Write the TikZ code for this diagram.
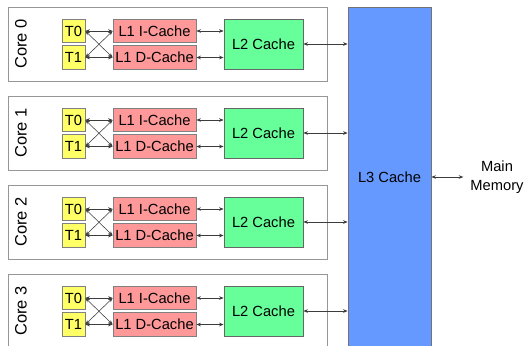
\documentclass[tikz,border=0pt]{standalone}
\usepackage{fontspec}
\setmainfont{Liberation Sans}
\usetikzlibrary{arrows.meta}
\definecolor{tyellow}{RGB}{255,255,102}
\definecolor{lpink}{RGB}{255,153,153}
\definecolor{lgreen}{RGB}{102,255,153}
\definecolor{lblue}{RGB}{102,153,255}
\definecolor{bordgray}{RGB}{128,128,128}
\definecolor{coregray}{RGB}{150,150,150}
\definecolor{arrgray}{RGB}{60,60,60}
\begin{document}
\begin{tikzpicture}[x=1pt,y=-1pt,
  font=\fontsize{14.7}{18}\selectfont,
  box/.style={draw=bordgray, line width=0.8pt, inner sep=0pt, anchor=center},
  corebox/.style={draw=coregray, line width=0.8pt, inner sep=0pt, minimum width=319pt, minimum height=74pt},
  tbox/.style={box, fill=tyellow, minimum width=23pt, minimum height=23.5pt},
  lonebox/.style={box, fill=lpink, minimum width=83pt, minimum height=23.5pt},
  ltwobox/.style={box, draw=black!60, fill=lgreen, minimum width=79pt, minimum height=50pt},
  arr/.style={draw=arrgray, line width=0.55pt, arrows={Stealth[length=4.5pt,width=3.6pt]-Stealth[length=4.5pt,width=3.6pt]}}
]
\useasboundingbox (0,0) rectangle (524,345);
\node[box, draw=black!55, fill=lblue, minimum width=83pt, minimum height=340pt] (l3) at (389.5,177) {L3 Cache};
\node[align=center, inner sep=0pt, font=\fontsize{14.7}{19}\selectfont] (mm) at (497,177) {Main\\Memory};
\draw[arr, shorten >=7pt] (l3.east |- mm.center) -- (mm.west);
\foreach \k in {0,...,3}{
  \pgfmathsetmacro\oy{89*\k}
  \node[corebox] (core\k) at (167.5,44+\oy) {};
  \node[rotate=90, font=\fontsize{16.5}{18}\selectfont, inner sep=0pt] (cl\k) at (21,44+\oy) {Core \k};
  \node[tbox] (ta\k) at (73.5,31+\oy) {T0};
  \node[tbox] (tb\k) at (73.5,57.5+\oy) {T1};
  \node[lonebox] (li\k) at (154.5,31+\oy) {L1 I-Cache};
  \node[lonebox] (ld\k) at (154.5,57.5+\oy) {L1 D-Cache};
  \node[ltwobox] (ltwo\k) at (263.5,44+\oy) {L2 Cache};
  \draw[arr] (ta\k.east) -- (li\k.west);
  \draw[arr] (tb\k.east) -- (ld\k.west);
  \draw[arr] (ta\k.east) -- (ld\k.west);
  \draw[arr] (tb\k.east) -- (li\k.west);
  \draw[arr] (li\k.east) -- (li\k.east -| ltwo\k.west);
  \draw[arr] (ld\k.east) -- (ld\k.east -| ltwo\k.west);
  \draw[arr] (ltwo\k.east) -- (ltwo\k.east -| l3.west);
}
\end{tikzpicture}
\end{document}
